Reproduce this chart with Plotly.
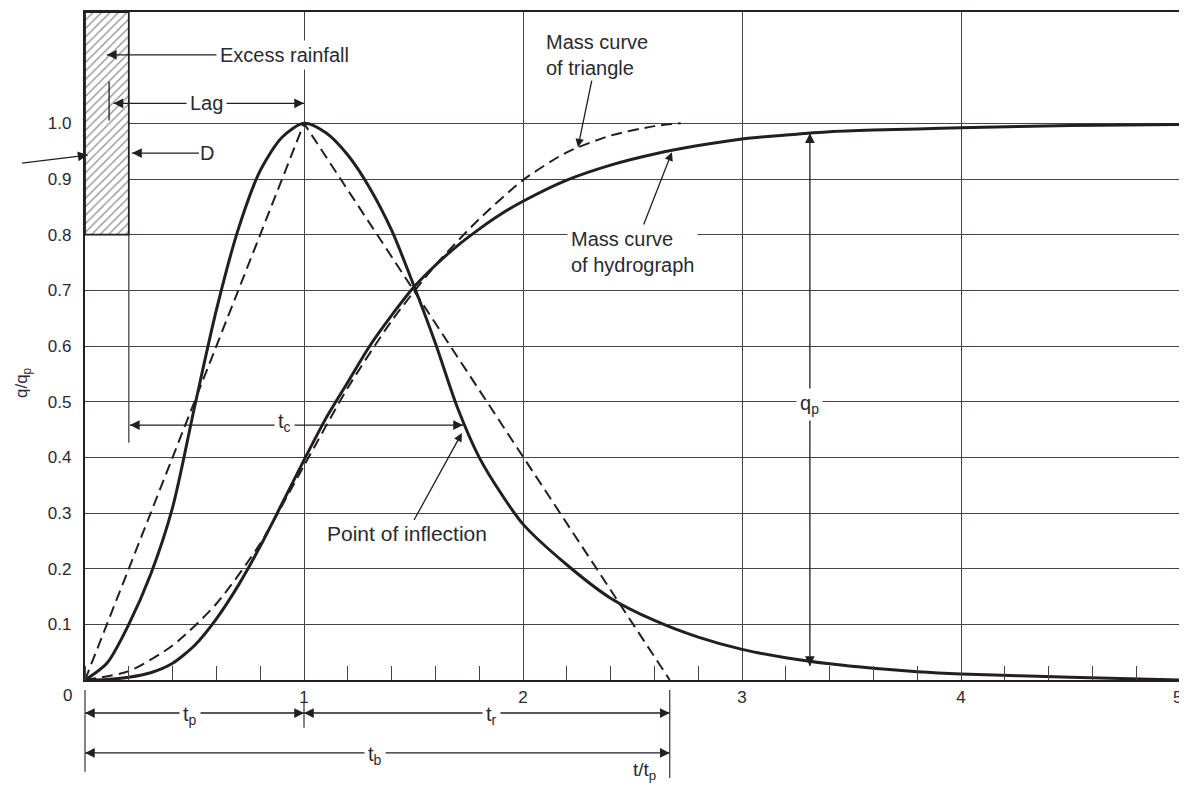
import math
import plotly.graph_objects as go

# ---------------- data ----------------
# dimensionless unit hydrograph (solid)
t_hydro = [0.0, 0.1, 0.2, 0.3, 0.4, 0.5, 0.6, 0.7, 0.8, 0.9, 1.0, 1.1, 1.2, 1.3, 1.4, 1.5,
           1.6, 1.7, 1.8, 1.9, 2.0, 2.2, 2.4, 2.6, 2.8, 3.0, 3.2, 3.4, 3.6, 3.8, 4.0, 4.5, 5.0]
q_hydro = [0.0, 0.03, 0.10, 0.19, 0.31, 0.49, 0.665, 0.81, 0.915, 0.975, 1.0, 0.983, 0.943,
           0.884, 0.808, 0.71, 0.605, 0.49, 0.40, 0.335, 0.28, 0.207, 0.147, 0.107, 0.077,
           0.055, 0.040, 0.029, 0.021, 0.015, 0.011, 0.005, 0.0]
# mass curve of hydrograph (solid)
t_mass = [0.0, 0.1, 0.2, 0.3, 0.4, 0.5, 0.6, 0.7, 0.8, 0.9, 1.0, 1.1, 1.2, 1.3, 1.4, 1.5,
          1.6, 1.7, 1.8, 1.9, 2.0, 2.2, 2.4, 2.6, 2.8, 3.0, 3.2, 3.4, 3.6, 3.8, 4.0, 4.5, 5.0]
q_mass = [0.0, 0.001, 0.005, 0.013, 0.03, 0.062, 0.11, 0.17, 0.24, 0.317, 0.395, 0.47, 0.535,
          0.60, 0.655, 0.705, 0.745, 0.78, 0.81, 0.837, 0.86, 0.898, 0.925, 0.945, 0.96,
          0.972, 0.979, 0.985, 0.988, 0.99, 0.992, 0.996, 0.998]
# triangular hydrograph (dashed)
t_tri = [0.0, 1.0, 2.67]
q_tri = [0.0, 1.0, 0.0]
# mass curve of triangle (dashed)
t_mass_tri = [0.0, 0.2, 0.4, 0.6, 0.8, 1.0, 1.2, 1.4, 1.6, 1.8, 2.0, 2.2, 2.4, 2.6, 2.72]
q_mass_tri = [0.0, 0.016, 0.062, 0.137, 0.245, 0.385, 0.525, 0.645, 0.745, 0.828, 0.898,
              0.948, 0.978, 0.995, 1.0]

x_tick_vals = [1, 2, 3, 4]
x_tick_text = ["1", "2", "3", "4"]
x_last_tick, x_last_text = 5, "5"
y_tick_vals = [0.1, 0.2, 0.3, 0.4, 0.5, 0.6, 0.7, 0.8, 0.9, 1.0]
y_tick_text = ["0.1", "0.2", "0.3", "0.4", "0.5", "0.6", "0.7", "0.8", "0.9", "1.0"]

# excess rainfall block and key times
rain_start, rain_end = 0.0, 0.2
rain_bottom, rain_top = 0.8, 1.2
rain_centroid = 0.11
t_peak = 1.0
t_base = 2.67
t_inflect, q_inflect = 1.726, 0.458
t_qp, q_qp_top, q_qp_bottom = 3.31, 0.982, 0.025

# ---------------- styling ----------------
X_RANGE = [0.0, 5.0]
Y_RANGE = [0.0, 1.2]
INK = "#231f20"
GRID = "#4a4242"
TXT = "#2a2a30"
FONT = "Liberation Sans, Arial, sans-serif"
# page body adds an 8px offset, so the figure is 8px smaller than the window
FIG_W, FIG_H = 1179, 783
MARGIN = dict(l=77, r=7, t=4, b=111)


def fx(x):
    return (x - X_RANGE[0]) / (X_RANGE[1] - X_RANGE[0])


def fy(y):
    return (y - Y_RANGE[0]) / (Y_RANGE[1] - Y_RANGE[0])


fig = go.Figure()

# hatched excess-rainfall block
fig.add_trace(go.Bar(
    x=[(rain_start + rain_end) / 2], y=[rain_top - rain_bottom], base=[rain_bottom],
    width=[rain_end - rain_start],
    marker=dict(color="white", line=dict(color=INK, width=1.8),
                pattern=dict(shape="/", fgcolor="#231d1d", bgcolor="white",
                             size=6, solidity=0.22)),
    hoverinfo="skip"))

dash = "11px,6px"
fig.add_trace(go.Scatter(x=t_tri, y=q_tri, mode="lines", hoverinfo="skip",
                         line=dict(color=INK, width=2, dash=dash)))
fig.add_trace(go.Scatter(x=t_mass_tri, y=q_mass_tri, mode="lines", hoverinfo="skip",
                         line=dict(color=INK, width=2, dash=dash, shape="spline",
                                   smoothing=0.7)))
fig.add_trace(go.Scatter(x=t_hydro, y=q_hydro, mode="lines", hoverinfo="skip",
                         line=dict(color=INK, width=3, shape="spline", smoothing=0.8)))
fig.add_trace(go.Scatter(x=t_mass, y=q_mass, mode="lines", hoverinfo="skip",
                         line=dict(color=INK, width=3, shape="spline", smoothing=0.7)))

# dimension / pointer lines: (x0, y0, x1, y1)
y_dim1 = -0.0593
y_dim2 = -0.131
shafts = [
    (0.62, 1.123, 0.10, 1.123),                 # excess rainfall
    (0.13, 1.036, t_peak, 1.036),               # lag
    (0.52, 0.9466, 0.215, 0.9466),              # D
    (-0.288, 0.9287, 0.012, 0.943),             # pointer at block from outside
    (rain_end + 0.005, q_inflect, t_inflect, q_inflect),   # t_c
    (t_qp, q_qp_bottom, t_qp, q_qp_top),        # q_p
    (0.0, y_dim1, t_peak, y_dim1),              # t_p
    (t_peak, y_dim1, t_base, y_dim1),           # t_r
    (0.0, y_dim2, t_base, y_dim2),              # t_b
]
# arrow heads: tip x, tip y, pointing angle (deg, clockwise from up)
heads = [
    (0.10, 1.123, 270), (0.13, 1.036, 270), (t_peak, 1.036, 90), (0.215, 0.9466, 270),
    (0.012, 0.943, 82), (rain_end + 0.005, q_inflect, 270), (t_inflect, q_inflect, 90),
    (t_qp, q_qp_top, 0), (t_qp, q_qp_bottom, 180),
    (0.0, y_dim1, 270), (t_peak, y_dim1, 90), (t_peak, y_dim1, 270), (t_base, y_dim1, 90),
    (0.0, y_dim2, 270), (t_base, y_dim2, 90),
]

shapes = []
for x0, y0, x1, y1 in shafts:
    shapes.append(dict(type="line", xref="paper", yref="paper", x0=fx(x0), y0=fy(y0),
                       x1=fx(x1), y1=fy(y1), line=dict(color=INK, width=1.3)))
# extension of rainfall-block edge (start of t_c)
shapes.append(dict(type="line", xref="paper", yref="paper", x0=fx(rain_end), x1=fx(rain_end),
                   y0=fy(rain_bottom), y1=fy(0.426), line=dict(color=GRID, width=1.3)))
# centroid mark inside block
shapes.append(dict(type="line", xref="paper", yref="paper", x0=fx(rain_centroid),
                   x1=fx(rain_centroid), y0=fy(1.005), y1=fy(1.075),
                   line=dict(color=INK, width=1.3)))
# dimension verticals below axis
for xv, y0, y1 in [(0.0, -0.018, -0.165), (t_peak, -0.041, -0.086), (t_base, -0.018, -0.176)]:
    shapes.append(dict(type="line", xref="paper", yref="paper", x0=fx(xv), x1=fx(xv),
                       y0=fy(y0), y1=fy(y1), line=dict(color=GRID, width=1.3)))

ann = []
HEAD_TAIL = 10  # px
for hx, hy, ang in heads:
    a = math.radians(ang)
    ann.append(dict(x=fx(hx), y=fy(hy), xref="paper", yref="paper",
                    axref="pixel", ayref="pixel",
                    ax=-HEAD_TAIL * math.sin(a), ay=HEAD_TAIL * math.cos(a),
                    text="", showarrow=True, arrowhead=2, arrowsize=1.5, arrowwidth=1.3,
                    arrowcolor=INK, standoff=0))

tf = dict(family=FONT, size=20, color=TXT)


def label(text, x, y, bg="white", size=20, **kw):
    d = dict(text=text, x=fx(x), y=fy(y), xref="paper", yref="paper", showarrow=False,
             font=dict(tf, size=size), bgcolor=bg, borderpad=3,
             xanchor="center", yanchor="middle")
    d.update(kw)
    ann.append(d)


clear = "rgba(0,0,0,0)"
label("Excess rainfall", 0.913, 1.123)
label("Lag", 0.553, 1.036)
label("D", 0.559, 0.9466, bg=clear)
label("t<sub>c</sub>", 0.909, 0.462)
label("q<sub>p</sub>", t_qp, 0.495)
label("t<sub>p</sub>", 0.479, y_dim1 - 0.004)
label("t<sub>r</sub>", 1.854, y_dim1 - 0.004)
label("t<sub>b</sub>", 1.324, y_dim2 - 0.004)
label("t/t<sub>p</sub>", 2.557, -0.163, bg=clear, size=19)
label("0", -0.078, -0.027, bg=clear, size=17)
label(x_last_text, x_last_tick, -0.032, bg=clear, size=17, xshift=-3)
label("q/q<sub>p</sub>", -0.283, 0.5335, bg=clear, size=17, textangle=-90)

# labelled callouts with arrows
call_kw = dict(showarrow=True, arrowhead=2, arrowsize=1.3, arrowwidth=1.3, arrowcolor=INK,
               xref="x", yref="y", axref="x", ayref="y", font=tf, align="left",
               standoff=0)
ann.append(dict(call_kw, text="Mass curve<br>of triangle", x=2.251, y=0.957,
                ax=2.338, ay=1.1227))
ann.append(dict(call_kw, text="Mass curve<br>of hydrograph", x=2.68, y=0.948,
                ax=2.502, ay=0.7688, bgcolor="white", borderpad=3))
ann.append(dict(call_kw, text="Point of inflection", x=1.721, y=0.4437,
                ax=1.47, ay=0.264, font=dict(tf, size=21)))

fig.update_layout(
    width=FIG_W, height=FIG_H,
    margin=dict(MARGIN, autoexpand=False),
    paper_bgcolor="white", plot_bgcolor="white",
    showlegend=False, barmode="overlay",
    font=dict(family=FONT, size=17, color=TXT),
    shapes=shapes, annotations=ann,
    xaxis=dict(range=X_RANGE, tickmode="array", tickvals=x_tick_vals, ticktext=x_tick_text,
               ticks="", showgrid=True, gridcolor=GRID, gridwidth=1.3, zeroline=False,
               showline=True, linecolor=INK, linewidth=2.2, mirror=True, automargin=False,
               tickfont=dict(family=FONT, size=17, color=TXT),
               minor=dict(tickmode="linear", tick0=0, dtick=0.2, ticks="inside",
                          ticklen=14, tickwidth=1.3, tickcolor=GRID, showgrid=False)),
    yaxis=dict(range=Y_RANGE, tickmode="array", tickvals=y_tick_vals, ticktext=y_tick_text,
               ticks="", showgrid=True, gridcolor=GRID, gridwidth=1.3, zeroline=False,
               showline=True, linecolor=INK, linewidth=2.2, mirror=True, automargin=False,
               ticklabelstandoff=8,
               tickfont=dict(family=FONT, size=17, color=TXT)),
)

fig.write_html("out.html")
